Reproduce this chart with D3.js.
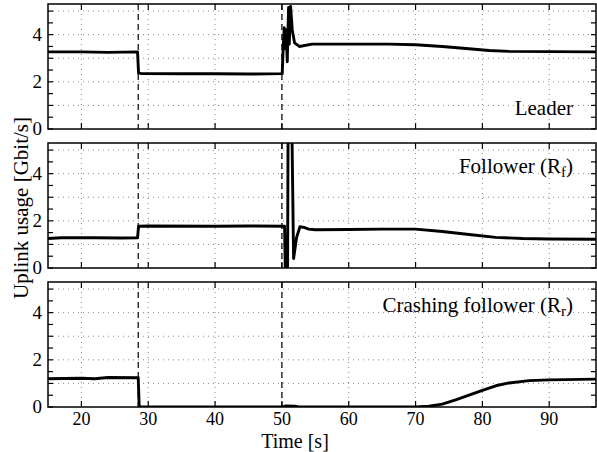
<!DOCTYPE html>
<html>
<head>
<meta charset="utf-8">
<script src="https://cdn.jsdelivr.net/npm/d3@7"></script>
</head>
<body style="margin:0; background:#fff">
<script>
// [time s, Gbit/s]
const leader = [
  [15, 3.27], [20, 3.27], [24, 3.25], [28.4, 3.27], [28.55, 2.38], [29, 2.35], [35, 2.34],
  [40, 2.34], [45, 2.33], [50.05, 2.35], [50.2, 3.5], [50.35, 4.3], [50.5, 3.4], [50.65, 4.2],
  [50.8, 2.85], [51.0, 5.15], [51.1, 3.6], [51.3, 5.2], [51.55, 4.2], [51.9, 3.65], [52.6, 3.5],
  [54.5, 3.6], [60, 3.6], [66, 3.6], [70, 3.57], [74, 3.5], [78, 3.4], [81, 3.33], [84, 3.29],
  [90, 3.28], [97, 3.27]
];
const follower = [
  [15, 1.25], [17, 1.28], [22, 1.28], [26, 1.27], [28.4, 1.28], [28.55, 1.77], [30, 1.78],
  [40, 1.77], [45, 1.78], [50.4, 1.77], [50.5, 0.02], [50.85, 0.02], [50.95, 8], [51.4, 8],
  [51.75, 0.4], [52.2, 1.3], [52.7, 1.75], [53.3, 1.72], [54, 1.65], [55, 1.62], [60, 1.63],
  [65, 1.65], [70, 1.65], [74, 1.55], [78, 1.42], [82, 1.3], [86, 1.25], [90, 1.23], [97, 1.22]
];
const crashing = [
  [15, 1.2], [20, 1.22], [22, 1.2], [24, 1.25], [28.5, 1.24], [28.65, 0], [50, 0], [50.5, 0.04],
  [52, 0.03], [52.5, 0], [70, 0], [72, 0.03], [74, 0.12], [76, 0.3], [78, 0.5], [80, 0.7],
  [82, 0.9], [84, 1.02], [87, 1.12], [90, 1.15], [97, 1.18]
];
const panelNames = ["Leader", "Follower (R|f)", "Crashing follower (R|r)"];
const events = [28.5, 50];
const xTicks = [20, 30, 40, 50, 60, 70, 80, 90];
const yTicks = [0, 2, 4];

const W = 597, H = 452;
const left = 48, right = 596, panelH = 125, step = 139, top0 = 4;
const serif = "'Liberation Serif'";

const svg = d3.select("body").append("svg")
  .attr("width", W).attr("height", H);

const x = d3.scaleLinear().domain([15, 97]).range([left, right]);

const panels = [];

[leader, follower, crashing].forEach((data, i) => {
  const top = top0 + i * step;
  const y = d3.scaleLinear().domain([0, 5.3]).range([top + panelH, top]);
  const g = svg.append("g");

  g.append("clipPath").attr("id", "clip" + i)
    .append("rect").attr("x", left).attr("y", top).attr("width", right - left).attr("height", panelH);

  // dotted grid
  g.selectAll(".gx").data(xTicks).enter().append("line")
    .attr("x1", d => x(d)).attr("x2", d => x(d))
    .attr("y1", top).attr("y2", top + panelH)
    .attr("stroke", "#888").attr("stroke-width", 1).attr("stroke-dasharray", "1,4");
  g.selectAll(".gy").data([1, 2, 3, 4, 5]).enter().append("line")
    .attr("x1", left).attr("x2", right)
    .attr("y1", d => y(d)).attr("y2", d => y(d))
    .attr("stroke", "#888").attr("stroke-width", 1).attr("stroke-dasharray", "1,4");

  // event markers
  g.selectAll(".ev").data(events).enter().append("line")
    .attr("x1", d => x(d)).attr("x2", d => x(d))
    .attr("y1", top).attr("y2", top + panelH)
    .attr("stroke", "#000").attr("stroke-width", 1.2).attr("stroke-dasharray", "6,4");

  // inward ticks on all four sides
  const yMinor = d3.range(0, 5.3, 0.5);
  g.selectAll(".tl").data(yMinor).enter().append("line")
    .attr("x1", left).attr("x2", left + 5).attr("y1", d => y(d)).attr("y2", d => y(d))
    .attr("stroke", "#000").attr("stroke-width", 1.2);
  g.selectAll(".tr").data(yMinor).enter().append("line")
    .attr("x1", right - 5).attr("x2", right).attr("y1", d => y(d)).attr("y2", d => y(d))
    .attr("stroke", "#000").attr("stroke-width", 1.2);
  g.selectAll(".tb").data(xTicks).enter().append("line")
    .attr("x1", d => x(d)).attr("x2", d => x(d)).attr("y1", top + panelH - 6).attr("y2", top + panelH)
    .attr("stroke", "#000").attr("stroke-width", 1.2);
  g.selectAll(".tt").data(xTicks).enter().append("line")
    .attr("x1", d => x(d)).attr("x2", d => x(d)).attr("y1", top).attr("y2", top + 6)
    .attr("stroke", "#000").attr("stroke-width", 1.2);

  // series
  g.append("path").datum(data)
    .attr("clip-path", `url(#clip${i})`)
    .attr("d", d3.line().x(d => x(d[0])).y(d => y(d[1])))
    .attr("fill", "none").attr("stroke", "#000").attr("stroke-width", 2.9)
    .attr("stroke-linejoin", "round");

  // frame
  g.append("rect").attr("x", left).attr("y", top).attr("width", right - left).attr("height", panelH)
    .attr("fill", "none").attr("stroke", "#000").attr("stroke-width", 1.5);

  panels.push({ i, top, y });
});

const tg = svg.append("g");
panels.forEach(({ i, top, y }) => {
  tg.selectAll(null).data(yTicks).enter().append("text")
    .style("font-family", serif)
    .attr("x", left - 6).attr("y", d => y(d) + 6)
    .attr("text-anchor", "end").attr("font-size", 19).text(d => d);

  const parts = panelNames[i].split("|");
  const ty = i === 0 ? top + 111 : top + 30;
  const t = tg.append("text").style("font-family", serif)
    .attr("x", 573).attr("y", ty)
    .attr("text-anchor", "end").attr("font-size", 21);
  if (parts.length === 1) {
    t.text(parts[0]);
  } else {
    t.append("tspan").text(parts[0]);
    t.append("tspan").attr("font-size", 15).attr("dy", 4).text(parts[1].split(")")[0]);
    t.append("tspan").attr("dy", -4).text(")");
  }
});

// x tick labels under bottom panel
const bottom = top0 + 2 * step + panelH;
tg.selectAll(null).data(xTicks).enter().append("text")
  .style("font-family", serif)
  .attr("x", d => x(d)).attr("y", bottom + 18)
  .attr("text-anchor", "middle").attr("font-size", 18).text(d => d);

tg.append("text").style("font-family", serif)
  .attr("x", 295).attr("y", 448)
  .attr("text-anchor", "middle").attr("font-size", 20).text("Time [s]");

tg.append("text").style("font-family", serif)
  .attr("transform", "translate(28,208) rotate(-90)")
  .attr("text-anchor", "middle").attr("font-size", 21).text("Uplink usage [Gbit/s]");
</script>
</body>
</html>
